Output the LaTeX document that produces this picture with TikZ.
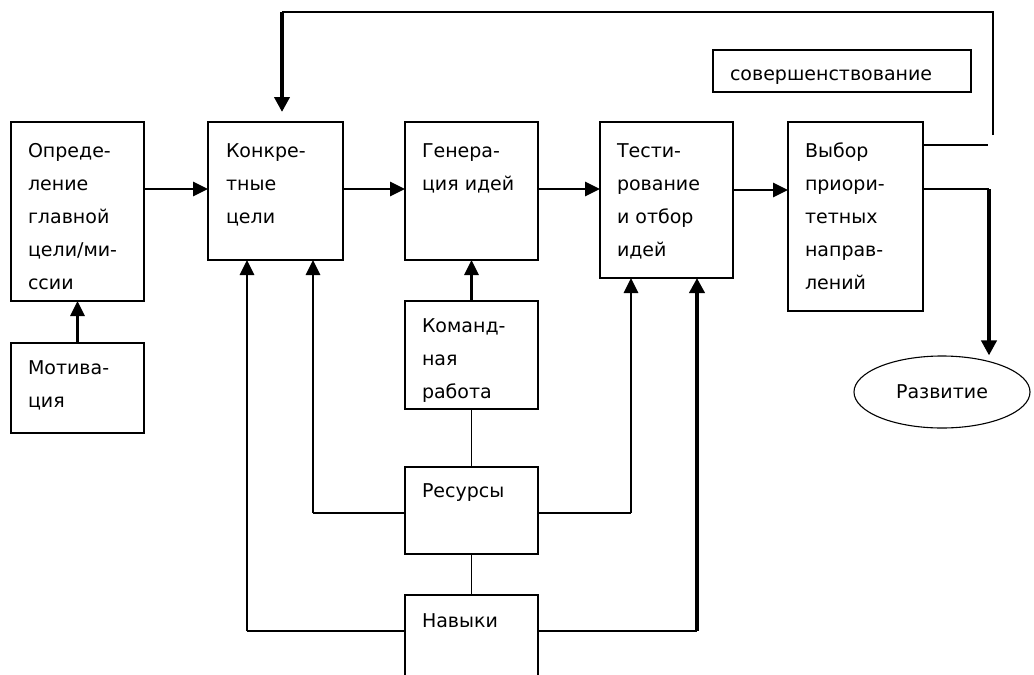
\documentclass[tikz,border=0pt]{standalone}
\usepackage{fontspec}
\setmainfont{DejaVu Sans}
\usetikzlibrary{arrows.meta,shapes.geometric}

\begin{document}
\begin{tikzpicture}[x=1pt,y=-1pt,
  box/.style={draw, line width=1.2pt, inner sep=0pt, outer sep=0pt, anchor=north west},
  % multi-line labels are placed by the baseline of their last line
  lbl/.style={inner sep=0pt, outer sep=0pt, align=left, anchor=base west,
              font=\fontsize{19}{33}\selectfont},
  link/.style={line width=1.3pt},
  feed/.style={line width=2.8pt, -{Triangle[length=15pt,width=14pt]}},
  heavy/.style={line width=4pt, -{Triangle[length=15pt,width=15pt]}},
]
\useasboundingbox (0,0) rectangle (1034,675);
\clip (0,0) rectangle (1034,675);

% blocks
\node[box, minimum width=133pt, minimum height=179pt] (def)  at (11,122)  {};
\node[box, minimum width=133pt, minimum height=90pt]  (mot)  at (11,343)  {};
\node[box, minimum width=135pt, minimum height=138pt] (konk) at (208,122) {};
\node[box, minimum width=133pt, minimum height=138pt] (gen)  at (405,122) {};
\node[box, minimum width=133pt, minimum height=156pt] (test) at (600,122) {};
\node[box, minimum width=135pt, minimum height=189pt] (vyb)  at (788,122) {};
\node[box, minimum width=133pt, minimum height=108pt] (kom)  at (405,301) {};
\node[box, minimum width=133pt, minimum height=87pt]  (res)  at (405,467) {};
\node[box, minimum width=133pt, minimum height=120pt] (nav)  at (405,595) {};
\node[box, minimum width=258pt, minimum height=42pt]  (sov)  at (713,50)  {};
\node[draw, line width=1.1pt, ellipse, minimum width=176pt, minimum height=72pt,
      inner sep=0pt, font=\fontsize{19}{33}\selectfont] (razv) at (942,392) {Развитие};

% block texts
\node[lbl] (def-t)  at (28,289)  {Опреде-\\ление\\главной\\цели/ми-\\ссии};
\node[lbl] (mot-t)  at (28,407)  {Мотива-\\ция};
\node[lbl] (konk-t) at (226,223) {Конкре-\\тные\\цели};
\node[lbl] (gen-t)  at (422,190) {Генера-\\ция идей};
\node[lbl] (test-t) at (617,256) {Тести-\\рование\\и отбор\\идей};
\node[lbl] (vyb-t)  at (805,289) {Выбор\\приори-\\тетных\\направ-\\лений};
\node[lbl] (kom-t)  at (422,398) {Команд-\\ная\\работа};
\node[lbl] (res-t)  at (422,497) {Ресурсы};
\node[lbl] (nav-t)  at (422,627) {Навыки};
\node[lbl] (sov-t)  at (730,80)  {совершенствование};

% junction points
\coordinate (j1) at (313,513);
\coordinate (j2) at (631,513);
\coordinate (j3) at (247,631);
\coordinate (j4) at (697,631);
\coordinate (fbA) at (988,145);
\coordinate (fbB) at (993,135);
\coordinate (fbC) at (993,12);
\coordinate (fbD) at (282,12);
\coordinate (dv)  at (989,189);

% main chain
\draw[feed] (mot.north) -- (def.south);
\draw[feed] (def.east |- 0,189) -- (konk.west |- 0,189);
\draw[feed] (konk.east |- 0,189) -- (gen.west |- 0,189);
\draw[feed] (gen.east |- 0,189) -- (test.west |- 0,189);
\draw[feed] (test.east |- 0,190) -- (vyb.west |- 0,190);
\draw[feed] (kom.north) -- (gen.south);

% resources and skills
\draw[link] (kom.south) -- (res.north);
\draw[link] (res.south) -- (nav.north);
\draw[link] (res.west |- j1) -- (j1);
\draw[feed] (j1) -- (j1 |- konk.south);
\draw[link] (res.east |- j2) -- (j2);
\draw[feed] (j2) -- (j2 |- test.south);
\draw[link] (nav.west |- j3) -- (j3);
\draw[feed] (j3) -- (j3 |- konk.south);
\draw[link] (nav.east |- j4) -- (j4);
\draw[heavy] (j4) -- (j4 |- test.south);

% improvement loop
\draw[link] (vyb.east |- fbA) -- (fbA);
\draw[link] (fbB) -- (fbC) -- (fbD);
\draw[heavy, shorten >=10pt] (fbD) -- (fbD |- konk.north);

% development
\draw[link] (vyb.east |- dv) -- (dv);
\draw[heavy] (dv) -- (dv |- razv.north);
\end{tikzpicture}
\end{document}
